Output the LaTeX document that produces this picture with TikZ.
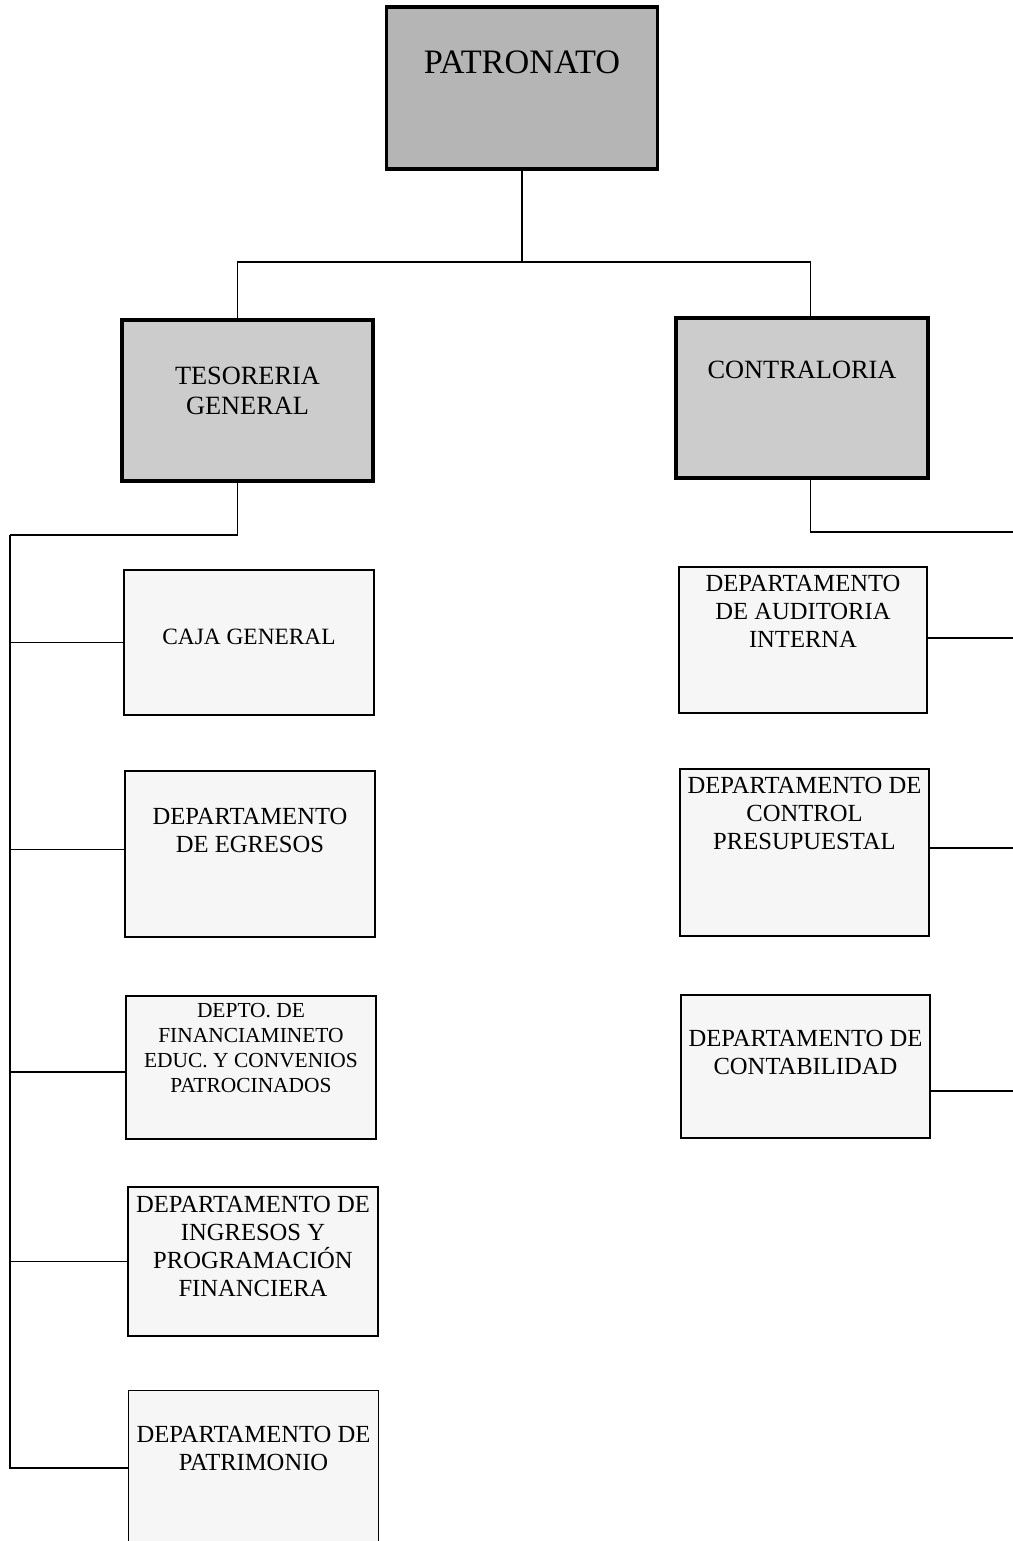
\documentclass[tikz,border=0pt]{standalone}
\usepackage{fontspec}
\setmainfont{Liberation Serif}
\tikzset{
  head/.style={draw, line width=2.2pt, fill=gray!40, align=center, inner sep=2pt,
    font=\fontsize{15}{17}\selectfont},
  dept/.style={draw, line width=0.8pt, fill=gray!7, align=center, inner sep=2pt,
    minimum width=5cm, font=\fontsize{14}{15.9}\selectfont},
  link/.style={line width=0.8pt}
}
\begin{document}
\begin{tikzpicture}[x=0.02cm, y=-0.02cm]
    \useasboundingbox (0,0) rectangle (1013,1541);
    % cabeza y primer nivel
    \node[head, fill=gray!58, minimum width=5.42cm, minimum height=3.24cm, text depth=1.04cm,
      font=\fontsize{19.5}{22}\selectfont] (patronato) at (522,88) {PATRONATO};
    \node[head, minimum width=5.02cm, minimum height=3.22cm, text depth=0.4cm] (tesoreria) at (247.5,400.5) {TESORERIA\\GENERAL};
    \node[head, minimum width=5.04cm, minimum height=3.2cm, text depth=1.12cm] (contraloria) at (802,398) {CONTRALORIA};
    % departamentos de tesoreria
    \node[dept, minimum height=2.9cm, text depth=0.24cm, font=\fontsize{13.3}{15.9}\selectfont] (caja) at (249,642.5) {CAJA GENERAL};
    \node[dept, minimum height=3.32cm, text depth=0.96cm] (egresos) at (250,854) {DEPARTAMENTO\\DE EGRESOS};
    \node[dept, minimum height=2.86cm, text depth=0.78cm, font=\fontsize{12.2}{14.2}\selectfont] (depto) at (251,1067.5) {DEPTO. DE\\FINANCIAMINETO\\EDUC. Y CONVENIOS\\PATROCINADOS};
    \node[dept, minimum height=2.98cm, text depth=0.6cm] (ingresos) at (253,1261.5) {DEPARTAMENTO DE\\INGRESOS Y\\PROGRAMACIÓN\\FINANCIERA};
    \node[dept, minimum height=3.1cm, text depth=0.8cm] (patrimonio) at (253.5,1468) {DEPARTAMENTO DE\\PATRIMONIO};
    % departamentos de contraloria
    \node[dept, minimum width=4.96cm, minimum height=2.92cm, text depth=1.16cm] (auditoria) at (803,640) {DEPARTAMENTO\\DE AUDITORIA\\INTERNA};
    \node[dept, minimum width=4.98cm, minimum height=3.34cm, text depth=1.56cm] (control) at (804.5,852.5) {DEPARTAMENTO DE\\CONTROL\\PRESUPUESTAL};
    \node[dept, minimum width=4.98cm, minimum height=2.86cm, text depth=0.56cm] (contabilidad) at (805.5,1066.5) {DEPARTAMENTO DE\\CONTABILIDAD};
    % lineas
    \coordinate (topbus) at (522,262);
    \coordinate (lbus) at (10,535);
    \coordinate (rbus) at (1013,532);
    \draw[link] (patronato.south) -- (topbus);
    \draw[link] (tesoreria.97) |- (topbus) -| (contraloria.84);
    \draw[link] (tesoreria.263) |- (lbus);
    \draw[link] (contraloria.-84) |- (rbus);
    \foreach \d/\a in {caja/180,egresos/178.6,depto/182.8,ingresos/180,patrimonio/180}
        \draw[link] (lbus) |- (\d.\a);
    \draw[link] (auditoria.1.4) -- (auditoria.1.4 -| rbus);
    \draw[link] (control.2.3) -- (control.2.3 -| rbus);
    \draw[link] (contabilidad.-11) -- (contabilidad.-11 -| rbus);
\end{tikzpicture}
\end{document}
